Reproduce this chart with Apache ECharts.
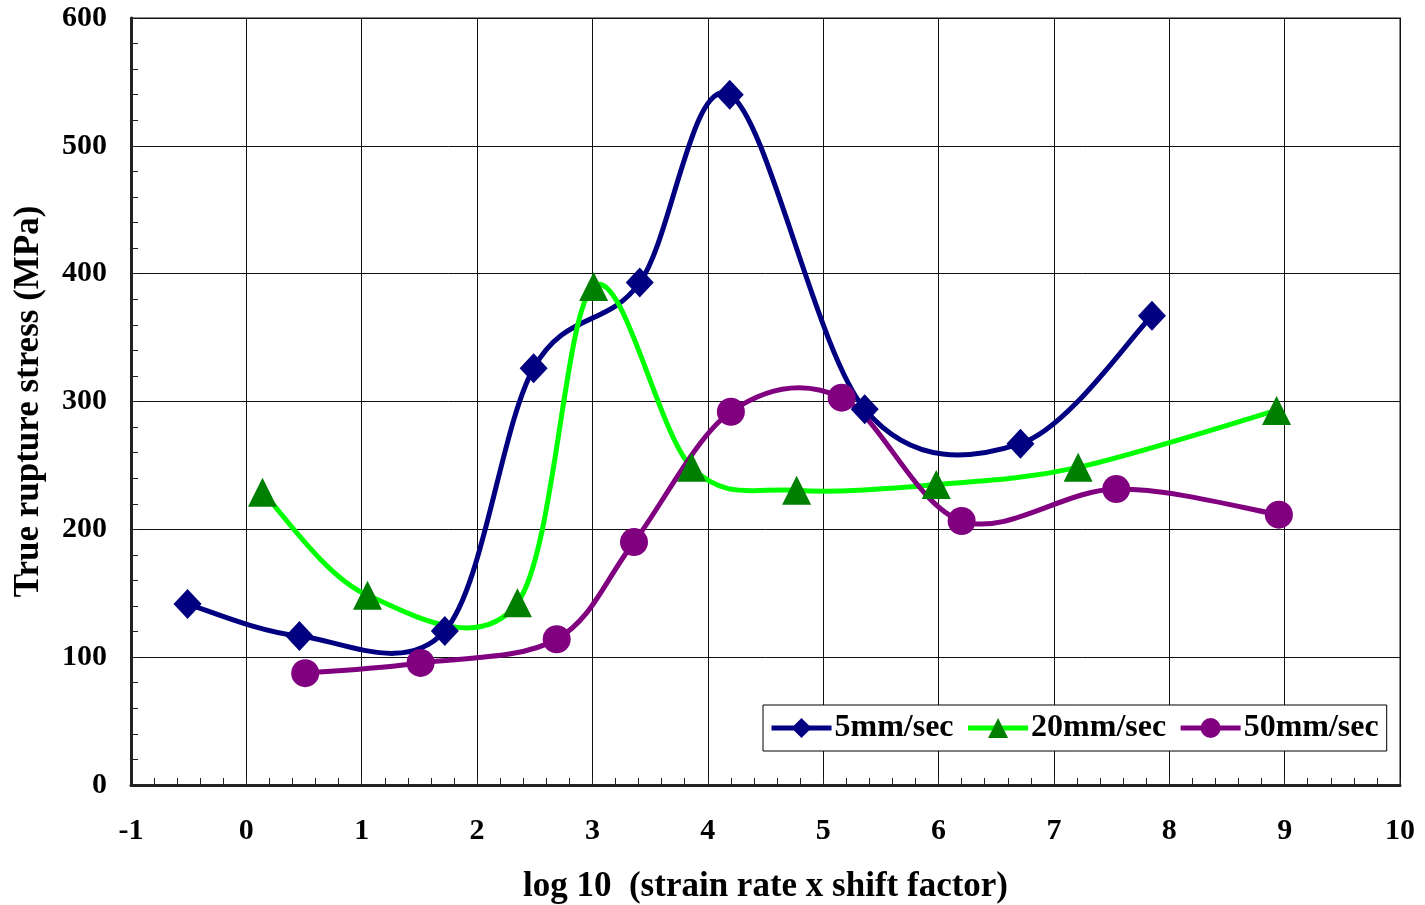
<!DOCTYPE html>
<html>
<head>
<meta charset="utf-8">
<script src="https://cdn.jsdelivr.net/npm/echarts@6/dist/echarts.min.js"></script>
<style>
html,body{margin:0;padding:0;background:#fff;}
#chart{width:1425px;height:905px;}
</style>
</head>
<body>
<div id="chart"></div>
<script>
const seriesNames = ['5mm/sec', '20mm/sec', '50mm/sec'];
const x5 = [-0.51, 0.46, 1.72, 2.49, 3.41, 4.19, 5.36, 6.71, 7.85];
const y5 = [141.5, 116.5, 120.5, 326, 393, 540, 294, 267, 367];
const x20 = [0.14, 1.05, 2.35, 3.01, 3.86, 4.77, 5.98, 7.21, 8.93];
const y20 = [229, 148.5, 142.5, 390, 248.5, 230.5, 235, 248.5, 293];
const x50 = [0.51, 1.51, 2.69, 3.36, 4.20, 5.16, 6.20, 7.54, 8.95];
const y50 = [87.5, 95.5, 114, 190, 292, 303, 206.5, 231.5, 211.5];

const xMin = -1, xMax = 10, xStep = 1;
const yMin = 0, yMax = 600, yStep = 100;

function pairs(xs, ys){ return xs.map((x,i)=>[x, ys[i]]); }

const font = 'Liberation Serif, Times New Roman, serif';
const chart = echarts.init(document.getElementById('chart'));
const lineColors = ['#000080', '#00ff00', '#800080'];
const markColors = ['#000080', '#008000', '#800080'];
const symbols = ['diamond', 'triangle', 'circle'];
const symSizes = [[28, 30], [29, 29], [28, 28]];
const datas = [pairs(x5, y5), pairs(x20, y20), pairs(x50, y50)];

// Excel-like smoothed curve (Catmull-Rom bezier) through points mapped by the axes
function smoothPath(pts){
  let d = 'M' + pts[0][0] + ' ' + pts[0][1];
  const n = pts.length;
  for (let i = 0; i < n - 1; i++){
    const p0 = pts[Math.max(i-1, 0)], p1 = pts[i], p2 = pts[i+1], p3 = pts[Math.min(i+2, n-1)];
    const c1 = [p1[0] + (p2[0]-p0[0])/6, p1[1] + (p2[1]-p0[1])/6];
    const c2 = [p2[0] - (p3[0]-p1[0])/6, p2[1] - (p3[1]-p1[1])/6];
    d += ' C' + c1[0] + ' ' + c1[1] + ' ' + c2[0] + ' ' + c2[1] + ' ' + p2[0] + ' ' + p2[1];
  }
  return d;
}

const curveSeries = datas.map((data, i) => ({
  type: 'custom', name: seriesNames[i] + '_curve', data: data, z: 2 + i, silent: true,
  renderItem: function(params, api){
    if (params.dataIndex !== 0) return null;
    const pts = data.map(p => api.coord(p));
    return {type: 'path', shape: {pathData: smoothPath(pts)},
      style: {stroke: lineColors[i], lineWidth: 5, fill: null, lineJoin: 'round', lineCap: 'round'}};
  }
}));

const markerSeries = seriesNames.map((n, i) => ({
  name: n, type: 'line', data: datas[i], smooth: false,
  symbol: symbols[i], symbolSize: symSizes[i], showAllSymbol: true,
  lineStyle: {color: lineColors[i], width: 5, opacity: 0},
  itemStyle: {color: markColors[i], borderWidth: 0},
  z: 10 + i
}));

chart.setOption({
  animation: false,
  backgroundColor: '#fff',
  grid: {left: 131, right: 25, top: 18, bottom: 120, containLabel: false, outerBoundsMode: 'none',
    show: true, borderColor: '#888', borderWidth: 2, backgroundColor: 'transparent'},
  legend: {
    data: seriesNames.map((n, i) => ({name: n, lineStyle: {color: lineColors[i], width: 5, opacity: 1}, itemStyle: {color: markColors[i]}})),
    left: 763, top: 705,
    backgroundColor: '#fff', borderColor: '#000', borderWidth: 1,
    padding: [6, 8, 6, 6],
    itemGap: 12, itemWidth: 60, itemHeight: 25,
    textStyle: {fontFamily: font, fontWeight: 'bold', fontSize: 32, color: '#000', lineHeight: 34, padding: [0, 0, 0, -2]}
  },
  xAxis: {
    type: 'value', min: xMin, max: xMax, interval: xStep,
    name: 'log 10  (strain rate x shift factor)', nameLocation: 'middle', nameGap: 84,
    nameTextStyle: {fontFamily: font, fontWeight: 'bold', fontSize: 35, color: '#000'},
    axisLine: {show: true, onZero: false, lineStyle: {color: '#222', width: 3}},
    axisTick: {show: true, inside: true, length: 7, lineStyle: {color: '#222', width: 1}},
    minorTick: {show: true, splitNumber: 5, length: 7, lineStyle: {color: '#222', width: 1}},
    axisLabel: {fontFamily: font, fontWeight: 'bold', fontSize: 30, color: '#000', margin: 31,
      formatter: v => String(v)},
    splitLine: {show: true, lineStyle: {color: '#111', width: 1}}
  },
  yAxis: {
    type: 'value', min: yMin, max: yMax, interval: yStep,
    name: 'True rupture stress (MPa)', nameLocation: 'middle', nameGap: 85,
    nameTextStyle: {fontFamily: font, fontWeight: 'bold', fontSize: 35, color: '#000'},
    axisLine: {show: true, onZero: false, lineStyle: {color: '#222', width: 3}},
    axisTick: {show: true, inside: true, length: 7, lineStyle: {color: '#222', width: 1}},
    minorTick: {show: true, splitNumber: 5, length: 7, lineStyle: {color: '#222', width: 1}},
    axisLabel: {fontFamily: font, fontWeight: 'bold', fontSize: 30, color: '#000', margin: 24},
    splitLine: {show: true, lineStyle: {color: '#111', width: 1}}
  },
  series: curveSeries.concat(markerSeries)
});
</script>
</body>
</html>
